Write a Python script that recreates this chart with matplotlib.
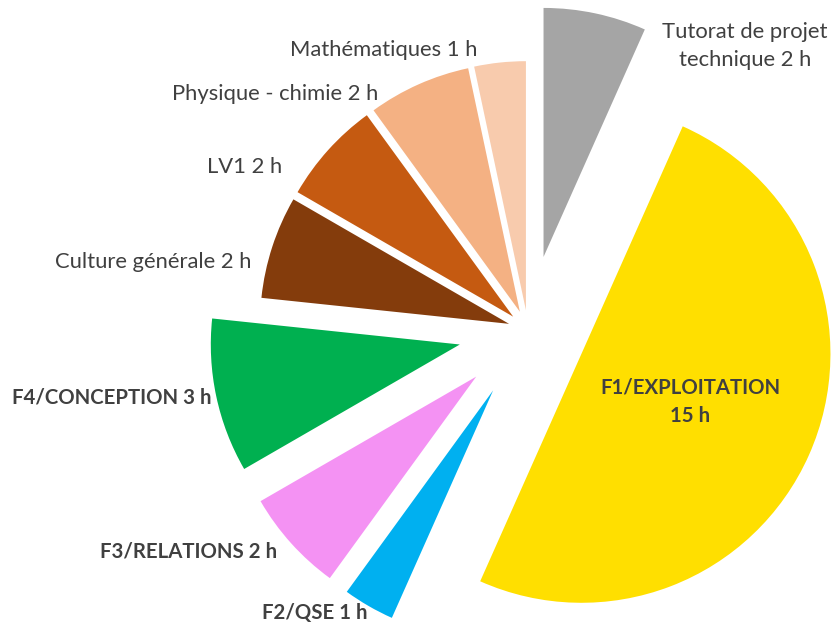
import matplotlib
matplotlib.use("Agg")
import matplotlib.pyplot as plt

# Data (hours per subject), clockwise from 12 o'clock
categories = ["Tutorat de projet technique", "F1/EXPLOITATION", "F2/QSE", "F3/RELATIONS",
              "F4/CONCEPTION", "Culture générale", "LV1", "Physique - chimie", "Mathématiques"]
hours = [2, 15, 1, 2, 3, 2, 2, 2, 1]
label_texts = ["Tutorat de projet\ntechnique 2 h", "F1/EXPLOITATION\n15 h", "F2/QSE 1 h",
               "F3/RELATIONS 2 h", "F4/CONCEPTION 3 h", "Culture générale 2 h", "LV1 2 h",
               "Physique - chimie 2 h", "Mathématiques 1 h"]
bold_flags = [False, True, True, True, True, False, False, False, False]

colors = ["#A5A5A5", "#FFDF00", "#00B0F0", "#F492F3", "#00B050",
          "#843C0C", "#C55A11", "#F4B183", "#F8CBAD"]
explode = [0.30, 0.235, 0.28, 0.28, 0.28, 0.08, 0.08, 0.08, 0.08]

W, H = 833, 627
cx, cy, R = 528, 330, 249

fig = plt.figure(figsize=(W / 100, H / 100), dpi=100)
ax = fig.add_axes([0, 0, 1, 1])

ax.pie(hours, colors=colors, explode=explode, startangle=90, counterclock=False,
       radius=1, center=(0, 0), frame=False,
       wedgeprops=dict(linewidth=0))
ax.set_xlim(-cx / R, (W - cx) / R)
ax.set_ylim(-(H - cy) / R, cy / R)
ax.set_aspect("equal")
ax.axis("off")

# label anchors in pixel coordinates (x, y from top), horizontal alignment
label_pos = [(745, 46, "center"), (690, 402, "center"), (368, 613, "right"),
             (277, 551, "right"), (211, 398, "right"), (252, 262, "right"),
             (282, 167, "right"), (378, 94, "right"), (477, 50, "right")]

for txt, bold, (px, py, ha) in zip(label_texts, bold_flags, label_pos):
    fig.text(px / W, 1 - py / H, txt, ha=ha, va="center",
             fontsize=14.7 if bold else 15.8,
             family=["Lato", "DejaVu Sans"], color="#404040",
             fontweight="bold" if bold else "normal", linespacing=1.5)

fig.savefig("out.png", dpi=100)
